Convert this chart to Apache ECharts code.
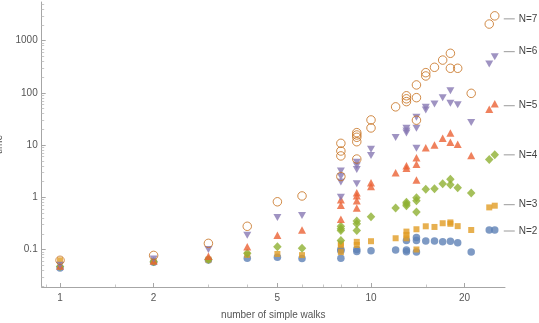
<!DOCTYPE html>
<html><head><meta charset="utf-8">
<script src="https://cdn.jsdelivr.net/npm/echarts@6/dist/echarts.min.js"></script>
<style>html,body{margin:0;padding:0;background:#fff}#c{width:539px;height:323px}</style>
</head><body><div id="c"></div>
<script>
// data: [number of simple walks, time]
const N2 = [[1,0.044],[2,0.057],[3,0.063],[4,0.068],[5,0.071],[6,0.067],[8,0.10],[8,0.095],[8,0.068],[9,0.10],[9,0.091],[10,0.095],[12,0.098],[13,0.148],[13,0.098],[13,0.09],[14,0.17],[14,0.148],[14,0.089],[15,0.146],[16,0.146],[17,0.141],[18,0.143],[19,0.135],[21,0.089],[24,0.236],[25,0.236]];
const N3 = [[1,0.062],[2,0.060],[3,0.064],[4,0.079],[5,0.082],[6,0.078],[8,0.13],[8,0.12],[8,0.089],[9,0.14],[9,0.122],[10,0.144],[12,0.164],[13,0.22],[13,0.19],[13,0.164],[14,0.244],[14,0.10],[15,0.278],[16,0.27],[17,0.318],[18,0.33],[18,0.31],[19,0.28],[21,0.236],[24,0.64],[25,0.69]];
const N4 = [[1,0.047],[2,0.058],[3,0.064],[4,0.085],[5,0.113],[6,0.105],[8,0.28],[8,0.25],[8,0.23],[8,0.148],[9,0.35],[9,0.31],[9,0.23],[10,0.425],[12,0.62],[13,0.80],[13,0.74],[13,0.69],[14,0.98],[14,0.86],[14,0.52],[15,1.42],[16,1.46],[17,1.82],[18,2.21],[18,1.74],[19,1.53],[21,1.21],[24,5.3],[25,6.5]];
const N5 = [[1,0.048],[2,0.060],[3,0.074],[4,0.113],[5,0.187],[6,0.236],[8,0.9],[8,0.70],[8,0.38],[9,1.22],[9,1.07],[9,0.86],[9,0.62],[10,1.9],[10,1.6],[12,2.96],[13,4.0],[13,3.6],[14,5.7],[14,4.3],[14,2.14],[15,8.9],[16,10.0],[17,13.5],[18,17.1],[18,11.3],[19,10.4],[21,6.3],[24,48.5],[25,62]];
const N6 = [[1,0.050],[2,0.066],[3,0.10],[4,0.187],[5,0.41],[6,0.45],[8,3.2],[8,2.5],[8,1.96],[8,1.0],[9,4.7],[9,4.0],[9,3.4],[9,1.82],[10,8.3],[10,6.3],[12,13.9],[13,21],[13,18.6],[13,17],[14,34],[14,21],[14,8.7],[15,53],[15,47],[16,61],[17,81],[18,110],[18,63],[19,59],[21,27],[24,358],[25,494]];
const N7 = [[1,0.062],[2,0.077],[3,0.131],[4,0.278],[5,0.82],[6,1.06],[8,10.8],[8,7.7],[8,6.2],[8,2.5],[9,17.3],[9,15.6],[9,14.1],[9,11.6],[9,5.4],[10,30.3],[10,21.3],[12,54],[13,88],[13,77],[13,68],[14,142],[14,81],[14,30],[15,244],[15,211],[16,309],[17,425],[18,573],[18,296],[19,296],[21,98],[24,2082],[25,2990]];
const seriesNames = ['N=2','N=3','N=4','N=5','N=6','N=7'];
const seriesData = [N2, N3, N4, N5, N6, N7];

const xLabelTicks = [1, 2, 5, 10, 20];
const xMinorTicks = [0.9, 1.5, 3, 4, 6, 7, 8, 9, 15];
const yLabelTicks = [0.1, 1, 10, 100, 1000];
const yMinorTicks = [0.02,0.03,0.04,0.05,0.06,0.07,0.08,0.09,0.2,0.3,0.4,0.5,0.6,0.7,0.8,0.9,2,3,4,5,6,7,8,9,20,30,40,50,60,70,80,90,200,300,400,500,600,700,800,900,2000,3000,4000,5000];

const colors = ['#5E81B5','#E19C24','#8FB032','#EB6235','#8778B3','#C56E1A'];
const symbols = ['circle','rect','diamond','triangle','path://M0,0 L10,0 L5,8.7 Z','circle'];
const sizes = [7.5, 6, [8.5,9], [8,7.5], [8,7], 8.5];
const labelDy = [1, -1, 0, 2, -5, 3];

const chart = echarts.init(document.getElementById('c'), null, {renderer:'canvas'});
const axisColor = '#a6a6a6';
const labelColor = '#555';
const font = 'Liberation Sans, Arial, sans-serif';

function xAxisCfg(main){
  return {
    type:'log', logBase:10, min:0.873, max:26.97,
    position:'bottom',
    axisLine:{show:main, lineStyle:{color:axisColor, width:1}},
    axisTick:{show:true, inside:true, length: main?4:2.5, lineStyle:{color: main?axisColor:'#c8c8c8'}, customValues: main?xLabelTicks:xMinorTicks},
    axisLabel:{show:main, color:labelColor, fontSize:10, fontFamily:font, margin:6, customValues:xLabelTicks, formatter: v=>String(v)},
    splitLine:{show:false}, minorTick:{show:false},
    name: main?'number of simple walks':'', nameLocation:'middle', nameGap:23,
    nameTextStyle:{color:labelColor, fontSize:10, fontFamily:font}
  };
}
function yAxisCfg(main){
  return {
    type:'log', logBase:10, min:0.0191, max:5510,
    position:'left',
    axisLine:{show:main, lineStyle:{color:axisColor, width:1}},
    axisTick:{show:true, inside:true, length: main?4:2.5, lineStyle:{color: main?axisColor:'#c8c8c8'}, customValues: main?yLabelTicks:yMinorTicks},
    axisLabel:{show:main, color:labelColor, fontSize:10, fontFamily:font, margin:4, customValues:yLabelTicks, formatter: v=>String(v)},
    splitLine:{show:false}, minorTick:{show:false},
    name: main?'time':'', nameLocation:'middle', nameGap:29, nameRotate:90,
    nameTextStyle:{color:labelColor, fontSize:10, fontFamily:font}
  };
}

const series = seriesData.map((d,i)=>{
  const last = d[d.length-1];
  const open = i===5;
  return {
    name: seriesNames[i], type:'scatter', xAxisIndex:0, yAxisIndex:0,
    data: d, symbol: symbols[i], symbolSize: sizes[i],
    itemStyle: open ? {color:'rgba(0,0,0,0)', borderColor:colors[i], borderWidth:1} : {color:colors[i]},
    emphasis:{disabled:true}, silent:true, z: 2+i,
    markPoint:{
      symbol:'circle', symbolSize:0, silent:true, animation:false,
      data:[{coord:[last[0], last[1]]}],
      label:{show:true, position:'right', distance:9, offset:[0, labelDy[i]],
        formatter:'{ln|}{t|'+seriesNames[i]+'}',
        rich:{ln:{width:11, height:1, backgroundColor:'#9a9a9a'}, t:{color:'#444', fontSize:10, fontFamily:font, padding:[0,0,0,4]}}
      }
    }
  };
});

chart.setOption({
  backgroundColor:'#fff',
  animation:false,
  grid:{left:41.7, right:34, top:2, bottom:36, outerBoundsMode:'none'},
  xAxis:[xAxisCfg(true), xAxisCfg(false)],
  yAxis:[yAxisCfg(true), yAxisCfg(false)],
  series: series
});
</script></body></html>
